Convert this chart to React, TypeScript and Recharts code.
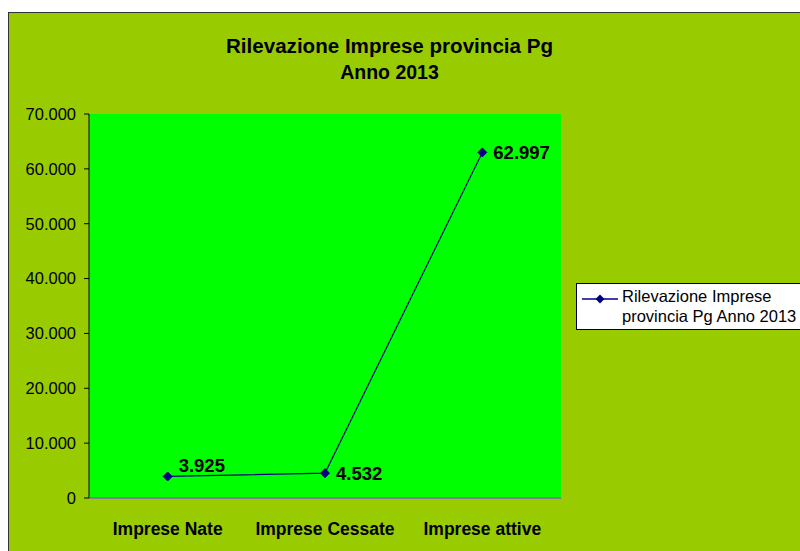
import React from "react";
import {
  LineChart,
  Line,
  XAxis,
  YAxis,
  CartesianGrid,
  Legend,
  LabelList,
} from "recharts";

const categories = ["Imprese Nate", "Imprese Cessate", "Imprese attive"];
const values = [3925, 4532, 62997];
const yTicks = [0, 10000, 20000, 30000, 40000, 50000, 60000, 70000];
const seriesName = "Rilevazione Imprese provincia Pg Anno 2013";
const titleLines = ["Rilevazione Imprese provincia Pg", "Anno 2013"];
const legendLines = ["Rilevazione Imprese", "provincia Pg Anno 2013"];

const data = categories.map((c, i) => ({ name: c, value: values[i] }));

const FONT = '"Liberation Sans", Arial, sans-serif';

const fmt = (v: number) =>
  String(Math.round(v)).replace(/\B(?=(\d{3})+(?!\d))/g, ".");

const Diamond = (props: any) => {
  const { cx, cy } = props;
  if (cx == null || cy == null) return null;
  const r = 4.5;
  return (
    <polygon
      points={`${cx},${cy - r} ${cx + r},${cy} ${cx},${cy + r} ${cx - r},${cy}`}
      fill="#000080"
      stroke="#000080"
    />
  );
};

const XTick = (props: any) => {
  const { x, y, payload } = props;
  return (
    <text
      x={x}
      y={y + 37}
      textAnchor="middle"
      fontFamily={FONT}
      fontWeight="bold"
      fontSize={17.5}
      fill="#000"
    >
      {payload.value}
    </text>
  );
};

const DataLabel = (props: any) => {
  const { x, y, value, index } = props;
  const dy = index === 0 ? -11 : 0;
  return (
    <text
      x={x + 11}
      y={y + dy}
      dominantBaseline="central"
      fontFamily={FONT}
      fontWeight="bold"
      fontSize={18.5}
      fill="#000"
    >
      {fmt(value)}
    </text>
  );
};

const LegendContent = () => (
  <div
    style={{
      width: 240,
      height: 47,
      background: "#fff",
      border: "1px solid #000",
      boxSizing: "border-box",
      position: "relative",
      fontFamily: FONT,
      fontSize: 16.5,
      color: "#000",
    }}
    title={seriesName}
  >
    <svg
      width={40}
      height={20}
      style={{ position: "absolute", left: 4, top: 5 }}
    >
      <line x1={1} y1={10} x2={37} y2={10} stroke="#000080" strokeWidth={1.5} />
      <polygon points="19,5.5 23.5,10 19,14.5 14.5,10" fill="#000080" />
    </svg>
    <div
      style={{
        position: "absolute",
        left: 45,
        top: 2,
        lineHeight: "20px",
        whiteSpace: "nowrap",
      }}
    >
      {legendLines.map((l) => (
        <div key={l}>{l}</div>
      ))}
    </div>
  </div>
);

export default function App() {
  return (
    <div
      style={{
        position: "absolute",
        left: 0,
        top: 0,
        width: 800,
        height: 551,
        overflow: "hidden",
        background: "#fff",
      }}
    >
      <div
        style={{
          position: "absolute",
          left: 8,
          top: 12,
          width: 820,
          height: 560,
          background: "#99CC00",
          border: "1px solid #333",
        }}
      />
      <svg
        width={800}
        height={100}
        style={{ position: "absolute", left: 0, top: 0 }}
      >
        <text
          x={389.5}
          y={53}
          textAnchor="middle"
          fontFamily={FONT}
          fontWeight="bold"
          fontSize={19.5}
          textLength={327}
          lengthAdjust="spacingAndGlyphs"
        >
          {titleLines[0]}
        </text>
        <text
          x={389.5}
          y={78.5}
          textAnchor="middle"
          fontFamily={FONT}
          fontWeight="bold"
          fontSize={19.5}
        >
          {titleLines[1]}
        </text>
      </svg>
      <div style={{ position: "absolute", left: 0, top: 0 }}>
        <LineChart
          width={800}
          height={551}
          data={data}
          margin={{ top: 114, right: 239, bottom: 0, left: 0 }}
        >
          <CartesianGrid
            vertical={false}
            horizontal={true}
            stroke="#000"
            strokeWidth={1}
            fill="#00FF00"
            fillOpacity={1}
            horizontalValues={yTicks}
          />
          <XAxis
            dataKey="name"
            xAxisId="b"
            scale="band"
            height={53}
            axisLine={{ stroke: "#808080", strokeWidth: 2 }}
            tickLine={false}
            tickSize={0}
            tickMargin={0}
            tick={<XTick />}
            interval={0}
          />
          <XAxis
            dataKey="name"
            xAxisId="t"
            scale="band"
            orientation="top"
            height={0}
            axisLine={{ stroke: "#808080", strokeWidth: 2 }}
            tickLine={false}
            tick={false}
          />
          <YAxis
            yAxisId="l"
            width={89}
            domain={[0, 70000]}
            ticks={yTicks}
            tickFormatter={fmt}
            axisLine={{ stroke: "#000", strokeWidth: 1 }}
            tickLine={{ stroke: "#000" }}
            tickSize={5}
            tickMargin={8}
            tick={{ fontFamily: FONT, fontSize: 16.5, fill: "#000" }}
            interval={0}
          />
          <YAxis
            yAxisId="r"
            orientation="right"
            width={0}
            domain={[0, 70000]}
            axisLine={{ stroke: "#808080", strokeWidth: 2 }}
            tickLine={false}
            tick={false}
          />
          <Legend
            layout="horizontal"
            verticalAlign="middle"
            align="center"
            content={<LegendContent />}
            wrapperStyle={{
              position: "absolute",
              left: 576,
              top: 283,
              width: 240,
              height: 47,
            }}
          />
          <Line
            xAxisId="b"
            yAxisId="l"
            type="linear"
            dataKey="value"
            name={seriesName}
            stroke="#000080"
            strokeWidth={1.2}
            dot={<Diamond />}
            activeDot={false}
            isAnimationActive={false}
          >
            <LabelList dataKey="value" content={<DataLabel />} />
          </Line>
        </LineChart>
      </div>
    </div>
  );
}
